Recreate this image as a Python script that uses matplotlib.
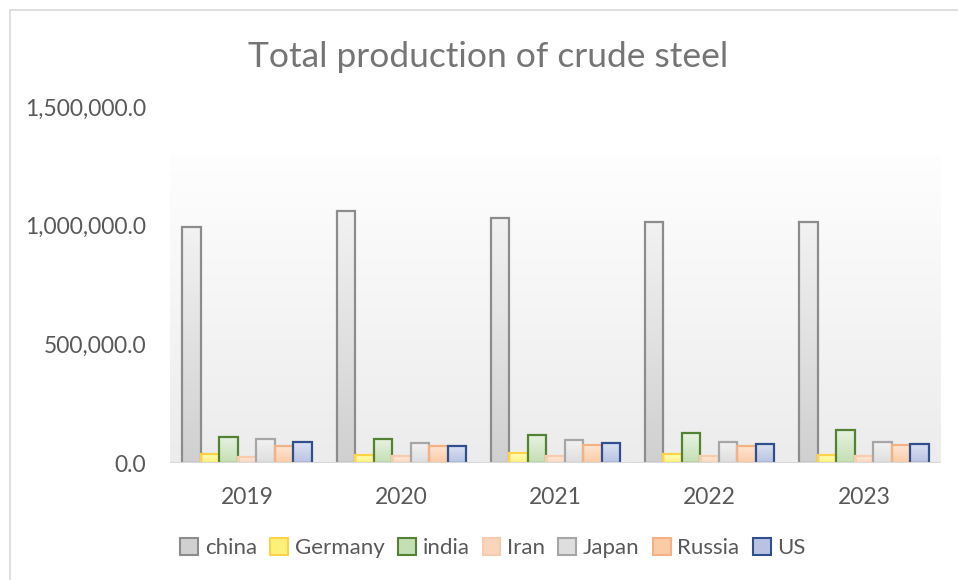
import numpy as np
import matplotlib.pyplot as plt
from matplotlib.patches import Patch
from matplotlib.lines import Line2D
from matplotlib.colors import LinearSegmentedColormap
from matplotlib.ticker import FuncFormatter

# data (thousand tonnes)
years = ['2019', '2020', '2021', '2022', '2023']
countries = ['china', 'Germany', 'india', 'Iran', 'Japan', 'Russia', 'US']
china = [993000, 1062000, 1033000, 1016000, 1017000]
germany = [39600, 35700, 40100, 36800, 35400]
india = [111400, 100300, 118200, 125400, 140200]
iran = [25600, 29000, 28300, 30600, 31100]
japan = [99300, 83200, 96300, 89200, 87000]
russia = [71600, 73400, 77000, 71500, 75800]
us = [87800, 72700, 85800, 80500, 81400]
series = [china, germany, india, iran, japan, russia, us]

# (top fill, bottom fill, edge)
styles = [
    ('#f2f2f2', '#d0d0d0', '#8c8c8c'),
    ('#ffffc0', '#fff07a', '#ffd347'),
    ('#e8f2e2', '#c4dfb4', '#548235'),
    ('#fdeadd', '#fbd5bb', '#f8cbad'),
    ('#f2f2f2', '#dedede', '#a6a6a6'),
    ('#fde6d4', '#fbcba6', '#f4b183'),
    ('#dde3f3', '#b8c3e3', '#2f4f8f'),
]

font = 'Lato'
txt = '#595959'

fig = plt.figure(figsize=(9.58, 5.8), dpi=100)
ax = fig.add_axes([170/958, 1-463/580, 771/958, 356/580])

# chart border (left and top visible)
fig.add_artist(Line2D([10/958, 10/958], [0, 1-10/580], color='#d9d9d9', lw=1.2))
fig.add_artist(Line2D([10/958, 1], [1-10/580, 1-10/580], color='#d9d9d9', lw=1.2))

ax.set_xlim(-0.5, len(years)-0.5)
ax.set_ylim(0, 1500000)

# plot-area gradient background
bg = LinearSegmentedColormap.from_list('bg', ['#fefefe', '#ececec'])
ax.imshow(np.linspace(0, 1, 100).reshape(-1, 1), cmap=bg, aspect='auto',
          extent=(-0.5, len(years)-0.5, 0, 1300000), zorder=0, vmin=0, vmax=1)

x = np.arange(len(years))
n = len(countries)
w = 0.84 / n
for i, vals in enumerate(series):
    top, bot, edge = styles[i]
    cmap = LinearSegmentedColormap.from_list('c%d' % i, [top, bot])
    pos = x - 0.42 + w * (i + 0.5)
    bars = ax.bar(pos, vals, width=w, facecolor='none', edgecolor=edge,
                  linewidth=1.6, zorder=3)
    for b in bars:
        x0, h = b.get_x(), b.get_height()
        im = ax.imshow(np.linspace(0, 1, 64).reshape(-1, 1), cmap=cmap,
                       aspect='auto', extent=(x0, x0 + w, 0, h), zorder=2)
        im.set_clip_path(b)

ax.axhline(0, color='#d9d9d9', lw=1.5, zorder=4)
for s in ax.spines.values():
    s.set_visible(False)
ax.set_xticks(x)
ax.set_xticklabels(years)
ax.set_yticks([0, 500000, 1000000, 1500000])
ax.yaxis.set_major_formatter(FuncFormatter(lambda v, p: '{:,.1f}'.format(v)))
ax.tick_params(length=0, labelsize=16.5, labelcolor=txt)
ax.tick_params(axis='y', pad=17)
ax.tick_params(axis='x', pad=17)
for lab in ax.get_xticklabels() + ax.get_yticklabels():
    lab.set_fontfamily(font)

fig.text(488/958, 1-57/580, 'Total production of crude steel', ha='center',
         va='center', fontsize=25.5, color='#757575', family=font)

handles = [Patch(facecolor=styles[i][1], edgecolor=styles[i][2], lw=1.5)
           for i in range(n)]
fig.legend(handles, countries, loc='center', bbox_to_anchor=(493/958, 1-548/580),
           ncol=n, frameon=False, handlelength=0.8, handleheight=0.8,
           handletextpad=0.3, columnspacing=0.6,
           prop={'family': font, 'size': 16}, labelcolor=txt)

fig.savefig('out.png', dpi=100)
